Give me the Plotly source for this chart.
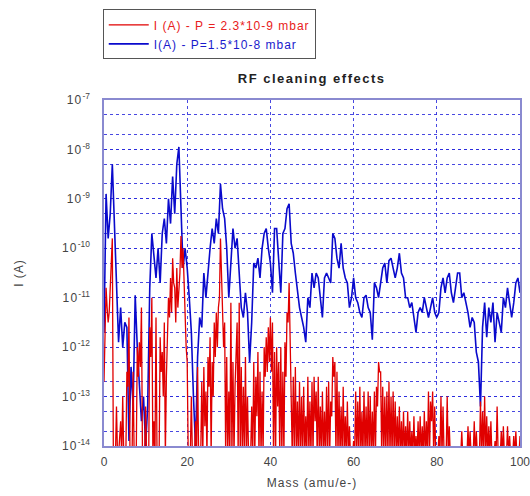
import plotly.graph_objects as go

# Mass axis (amu/e-), 0.5 amu sampling for the main readings
mass = [i * 0.5 for i in range(201)]
# troughs read between the main readings (at +0.25 amu)
mass_mid = [i * 0.5 + 0.25 for i in range(200)]

# log10 of current I (A)
blue_log_I = [
    -11.7, -8.9, -9.8, -9.3, -8.3, -9.6, -11.0, -11.9, -11.2, -12.0,   # 0 - 4.5
    -11.5, -11.6, -13.9, -12.4, -13.2, -10.95, -12.0, -12.8, -13.5, -13.0,  # 5 - 9.5
    -14.0, -13.2, -10.8, -9.7, -10.2, -10.6, -10.0, -10.7, -9.7, -9.4,  # 10 - 14.5
    -9.9, -9.0, -9.5, -8.55, -9.3, -8.3, -7.95, -9.0, -10.4, -10.0,     # 15 - 19.5
    -10.4, -11.0, -11.7, -13.0, -14.0, -12.2, -11.4, -11.6, -10.5, -11.0,  # 20 - 24.5
    -10.4, -10.0, -9.6, -9.9, -9.4, -9.7, -8.7, -9.2, -9.4, -10.0,     # 25 - 29.5
    -11.0, -10.2, -9.6, -10.0, -9.8, -10.5, -11.2, -11.4, -10.9, -11.3,  # 30 - 34.5
    -12.3, -11.5, -10.3, -10.4, -10.2, -10.6, -10.0, -9.7, -9.6, -10.0,  # 35 - 39.5
    -10.3, -10.9, -9.6, -9.6, -10.3, -10.9, -9.7, -9.6, -9.2, -9.1,    # 40 - 44.5
    -9.9, -10.1, -10.5, -10.9, -11.2, -11.4, -11.6, -11.9, -11.0, -11.2,  # 45 - 49.5
    -10.5, -10.8, -10.5, -10.6, -11.0, -11.4, -10.6, -10.5, -10.6, -10.7,  # 50 - 54.5
    -9.7, -9.8, -10.2, -10.4, -9.9, -10.4, -10.6, -10.7, -11.2, -11.0,  # 55 - 59.5
    -10.6, -11.0, -11.1, -11.3, -11.4, -11.0, -10.95, -11.2, -11.3, -11.85,  # 60 - 64.5
    -10.7, -10.8, -11.0, -10.7, -10.4, -10.3, -10.7, -10.25, -10.2, -10.4,  # 65 - 69.5
    -10.6, -10.4, -10.1, -10.5, -10.6, -11.0, -11.0, -11.2, -11.1, -11.4,  # 70 - 74.5
    -11.7, -11.3, -11.2, -11.3, -11.0, -11.2, -11.4, -11.2, -11.0, -11.3,  # 75 - 79.5
    -11.4, -11.3, -10.8, -10.6, -10.9, -10.6, -10.5, -10.9, -11.1, -10.8,  # 80 - 84.5
    -10.5, -10.5, -11.0, -10.9, -11.1, -11.3, -11.6, -11.4, -11.5, -12.1,  # 85 - 89.5
    -12.3, -13.2, -11.6, -11.1, -11.8, -11.2, -11.5, -11.1, -11.9, -11.3,  # 90 - 94.5
    -11.5, -11.7, -11.0, -11.2, -10.8, -11.1, -11.4, -11.1, -10.7, -10.6,  # 95 - 99.5
    -10.9,                                                               # 100
]

red_log_I = [
    -12.7, -10.8, -11.5, -10.6, -9.8, -14.2, -13.2, -14.2, -13.5, -13.0,   # 0 - 4.5
    -14.2, -12.5, -11.4, -14.2, -12.5, -14.2, -12.0, -11.9, -11.2, -14.2,  # 5 - 9.5
    -13.2, -14.2, -11.6, -11.0, -13.5, -11.4, -14.2, -11.8, -12.1, -11.5,  # 10 - 14.5
    -12.6, -11.0, -10.6, -10.2, -10.8, -10.4, -10.9, -9.75, -10.0, -11.2,  # 15 - 19.5
    -12.3, -14.2, -13.0, -14.2, -13.5, -12.4, -14.2, -12.7, -12.4, -12.9,  # 20 - 24.5
    -12.2, -11.8, -12.3, -11.5, -11.3, -11.2, -9.8, -11.1, -11.5, -12.2,   # 25 - 29.5
    -12.9, -11.1, -12.3, -12.8, -11.5, -11.1, -12.4, -12.8, -12.2, -13.0,  # 30 - 34.5
    -14.2, -13.2, -12.3, -12.6, -12.1, -12.5, -12.9, -12.0, -11.8, -11.6,  # 35 - 39.5
    -11.4, -11.5, -12.1, -12.0, -12.3, -12.0, -12.5, -11.9, -11.3, -10.7,  # 40 - 44.5
    -12.2, -12.6, -12.4, -13.1, -12.7, -13.0, -12.8, -13.4, -12.6, -13.1,  # 45 - 49.5
    -12.7, -12.6, -12.9, -12.6, -13.2, -12.9, -13.3, -12.8, -12.7, -13.1,  # 50 - 54.5
    -12.2, -12.3, -12.5, -12.9, -13.2, -12.8, -13.4, -13.1, -13.6, -14.2,  # 55 - 59.5
    -13.9, -12.9, -13.1, -12.8, -13.3, -12.9, -13.2, -12.9, -13.0, -13.3,  # 60 - 64.5
    -12.9, -12.8, -12.3, -12.5, -12.8, -13.0, -12.9, -12.7, -13.0, -12.9,  # 65 - 69.5
    -13.1, -13.4, -13.2, -13.5, -13.3, -13.6, -13.3, -13.5, -13.7, -13.4,  # 70 - 74.5
    -13.8, -13.5, -13.4, -13.6, -13.3, -13.5, -12.9, -13.1, -12.9, -13.2,  # 75 - 79.5
    -14.2, -13.8, -13.0, -13.2, -14.2, -13.0, -13.6, -14.2, -14.2, -14.2,  # 80 - 84.5
    -14.2, -14.2, -13.7, -14.2, -14.2, -13.6, -13.7, -14.2, -13.5, -13.7,  # 85 - 89.5
    -14.2, -13.1, -13.3, -13.0, -13.4, -13.6, -13.5, -14.2, -13.9, -13.2,  # 90 - 94.5
    -14.2, -13.7, -13.6, -14.2, -13.6, -13.8, -14.2, -13.8, -13.7, -14.2,  # 95 - 99.5
    -13.8,                                                               # 100
]

# red troughs at +0.25 amu (most drop below the 1e-14 floor)
red_mid_log_I = [
    -11.6, -11.2, -11.3, -10.3, -14.2, -14.2, -14.2, -13.8, -14.2, -14.2,   # 0.25 - 4.75
    -14.2, -12.8, -14.2, -14.2, -14.2, -14.2, -12.6, -12.4, -14.2, -14.2,   # 5.25 - 9.75
    -14.2, -14.2, -12.2, -14.2, -14.2, -14.2, -14.2, -12.5, -13.0, -14.2,   # 10.25 - 14.75
    -12.0, -11.4, -11.3, -10.7, -11.5, -11.2, -10.5, -10.4, -10.8, -12.0,   # 15.25 - 19.75
    -14.2, -14.2, -14.2, -14.2, -14.2, -14.2, -14.2, -14.2, -13.6, -14.2,   # 20.25 - 24.75
    -12.8, -14.2, -13.0, -12.2, -12.0, -11.0, -10.5, -12.0, -14.2, -14.2,   # 25.25 - 29.75
    -14.2, -14.2, -14.2, -12.2, -14.2, -14.2, -14.2, -14.2, -14.2, -14.2,   # 30.25 - 34.75
    -14.2, -14.2, -14.2, -13.4, -14.2, -14.2, -14.2, -12.6, -12.5, -12.3,   # 35.25 - 39.75
    -12.5, -14.2, -14.2, -13.2, -14.2, -14.2, -14.2, -12.6, -11.5, -11.8,   # 40.25 - 44.75
    -14.2, -14.2, -14.2, -14.2, -14.2, -14.2, -14.2, -14.2, -14.2, -14.2,   # 45.25 - 49.75
    -14.2, -13.5, -14.2, -14.2, -14.2, -14.2, -14.2, -14.2, -14.2, -13.4,   # 50.25 - 54.75
    -12.6, -14.2, -14.2, -14.2, -14.2, -14.2, -14.2, -14.2, -14.2, -14.2,   # 55.25 - 59.75
    -14.2, -14.2, -14.2, -14.2, -14.2, -14.2, -14.2, -14.2, -14.2, -14.2,   # 60.25 - 64.75
    -14.2, -13.2, -12.5, -14.2, -14.2, -14.2, -14.2, -14.2, -14.2, -14.2,   # 65.25 - 69.75
    -14.2, -14.2, -14.2, -14.2, -14.2, -14.2, -14.2, -14.2, -14.2, -14.2,   # 70.25 - 74.75
    -14.2, -14.2, -14.2, -14.2, -14.2, -14.2, -14.2, -13.5, -14.2, -14.2,   # 75.25 - 79.75
    -14.2, -14.2, -14.2, -14.2, -14.2, -14.2, -14.2, -14.2, -14.2, -14.2,   # 80.25 - 84.75
    -14.2, -14.2, -14.2, -14.2, -14.2, -14.2, -14.2, -14.2, -14.2, -14.2,   # 85.25 - 89.75
    -14.2, -14.2, -14.2, -14.2, -14.2, -14.2, -14.2, -14.2, -14.2, -14.2,   # 90.25 - 94.75
    -14.2, -14.2, -14.2, -14.2, -14.2, -14.2, -14.2, -14.2, -14.2, -14.2,   # 95.25 - 99.75
]

x_ticks = [0, 20, 40, 60, 80, 100]
x_tick_text = ["0", "20", "40", "60", "80", "100"]
y_ticks = [1e-14, 1e-13, 1e-12, 1e-11, 1e-10, 1e-9, 1e-8, 1e-7]
y_exps = ["-14", "-13", "-12", "-11", "-10", "-9", "-8", "-7"]

# merge main readings and troughs for the red series, in mass order
red_pairs = sorted(list(zip(mass, red_log_I)) + list(zip(mass_mid, red_mid_log_I)))
red_mass = [p[0] for p in red_pairs]
red_I = [10 ** p[1] for p in red_pairs]
blue_I = [10 ** v for v in blue_log_I]

sp = '<span style="letter-spacing:1.2px">'
y_tick_text = [sp + "10</span><sup>" + e + "</sup>" for e in y_exps]

red_name = '<span style="color:#e82020;letter-spacing:1px">I (A) - P = 2.3*10-9 mbar</span>'
blue_name = '<span style="color:#1a1acc;letter-spacing:1px">I(A) - P=1.5*10-8 mbar</span>'

fig = go.Figure()
fig.add_trace(go.Scatter(x=mass, y=blue_I, mode="lines", name=blue_name,
                         line=dict(color="#0a0acc", width=1.6)))
fig.add_trace(go.Scatter(x=red_mass, y=red_I, mode="lines", name=red_name,
                         line=dict(color="#e00000", width=1.3)))

grid_col = "rgba(40,40,220,0.85)"
fig.update_layout(
    width=530, height=496,
    margin=dict(l=104, r=10, t=100, b=50, autoexpand=False),
    paper_bgcolor="white", plot_bgcolor="white",
    font=dict(family="Liberation Sans, Arial, sans-serif", size=12, color="#444"),
    title=dict(text='<span style="letter-spacing:1.5px"><b>RF cleaning effects</b></span>',
               x=0.588, xanchor="center", y=1 - 78 / 496, yanchor="middle",
               font=dict(size=13, color="#222")),
    showlegend=True,
    legend=dict(x=-0.003, y=1.262, xanchor="left", yanchor="top",
                traceorder="reversed", bgcolor="white",
                bordercolor="#555", borderwidth=1,
                font=dict(size=12), tracegroupgap=0,
                itemwidth=40),
    xaxis=dict(range=[0, 100], tickvals=x_ticks, ticktext=x_tick_text, ticks="",
               automargin=False, ticklabelstandoff=4, ticklabeloverflow="allow",
               showline=True, linecolor="#8a8ad0", linewidth=1.5, mirror=True,
               showgrid=True, gridcolor=grid_col, griddash="dot", gridwidth=1,
               zeroline=False,
               title=dict(text='<span style="letter-spacing:1px">Mass (amu/e-)</span>',
                          standoff=10, font=dict(size=12)),
               tickfont=dict(size=12)),
    yaxis=dict(type="log", range=[-14, -7], tickvals=y_ticks, ticktext=y_tick_text,
               ticks="", automargin=False, ticklabelstandoff=10,
               showline=True, linecolor="#8a8ad0", linewidth=1.5, mirror=True,
               showgrid=True, gridcolor=grid_col, griddash="dot", gridwidth=1,
               minor=dict(showgrid=True, gridcolor=grid_col, griddash="dot", gridwidth=1),
               zeroline=False,
               title=dict(text='<span style="letter-spacing:1px">I (A)</span>',
                          standoff=36, font=dict(size=12)),
               tickfont=dict(size=12)),
)

fig.write_html("out.html", config={"displayModeBar": False},
               post_script="document.body.style.margin='0px';document.body.style.padding='0px';")
